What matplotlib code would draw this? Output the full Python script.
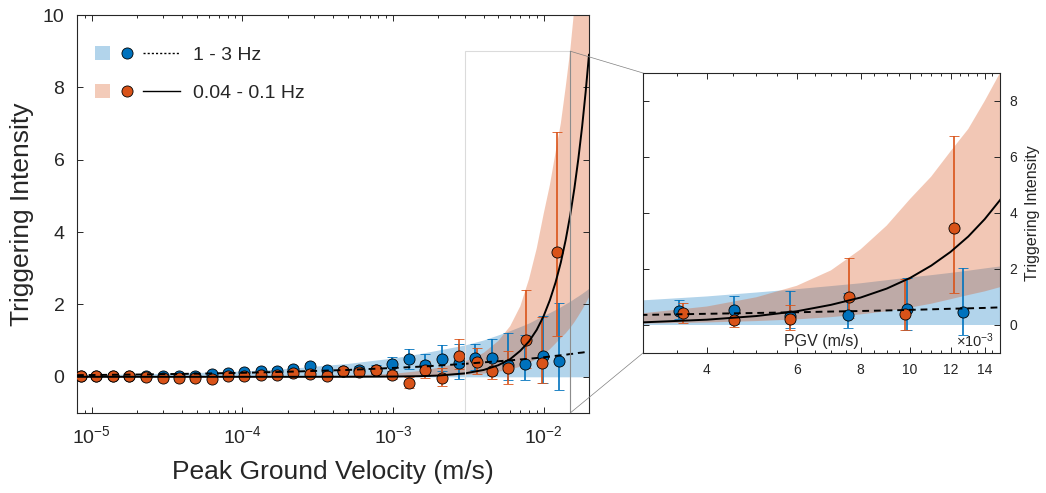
import numpy as np
import matplotlib
matplotlib.use("Agg")
import matplotlib.pyplot as plt
from matplotlib.patches import Rectangle, ConnectionPatch
from matplotlib.lines import Line2D
from matplotlib.ticker import (MultipleLocator, FuncFormatter, NullFormatter,
                               FixedLocator, LogLocator)

plt.rcParams["font.family"] = ["Liberation Sans", "DejaVu Sans"]
plt.rcParams["mathtext.fontset"] = "custom"
plt.rcParams["mathtext.rm"] = "Liberation Sans"
plt.rcParams["mathtext.it"] = "Liberation Sans:italic"
plt.rcParams["mathtext.default"] = "regular"

BLUE = "#0072BD"
ORANGE = "#D95319"
AXC = "#262626"

# binned triggering intensity, 1 - 3 Hz
pgv_hf = [8.45e-6, 1.075e-5, 1.38e-5, 1.77e-5, 2.28e-5, 2.97e-5, 3.80e-5, 4.86e-5,
          6.30e-5, 8.05e-5, 1.03e-4, 1.33e-4, 1.71e-4, 2.18e-4, 2.81e-4, 3.63e-4,
          4.68e-4, 5.97e-4, 7.71e-4, 9.9e-4, 1.28e-3, 1.64e-3, 2.12e-3, 2.73e-3,
          3.53e-3, 4.53e-3, 5.83e-3, 7.55e-3, 9.86e-3, 12.7e-3]
ti_hf = [0.02, 0.02, 0.02, 0.02, 0.02, 0.03, 0.03, 0.02, 0.08, 0.10, 0.13, 0.17,
         0.17, 0.22, 0.30, 0.19, 0.17, 0.19, 0.20, 0.36, 0.49, 0.33, 0.49, 0.38,
         0.51, 0.53, 0.32, 0.35, 0.57, 0.45]
lo_hf = [0.0, 0.0, 0.0, 0.0, 0.0, 0.01, 0.01, 0.0, 0.04, 0.06, 0.09, 0.13,
         0.10, 0.15, 0.23, 0.12, 0.10, 0.08, 0.08, 0.15, 0.21, 0.01, 0.15, -0.07,
         0.20, 0.05, -0.10, -0.10, -0.18, -0.36]
hi_hf = [0.04, 0.04, 0.04, 0.04, 0.04, 0.05, 0.05, 0.04, 0.12, 0.14, 0.17, 0.21,
         0.24, 0.29, 0.37, 0.26, 0.24, 0.30, 0.33, 0.54, 0.77, 0.64, 0.88, 0.91,
         0.91, 1.05, 1.20, 1.16, 1.67, 2.05]

# binned triggering intensity, 0.04 - 0.1 Hz
pgv_lf = [8.45e-6, 1.075e-5, 1.38e-5, 1.77e-5, 2.28e-5, 2.97e-5, 3.80e-5, 4.86e-5,
          6.30e-5, 8.05e-5, 1.03e-4, 1.33e-4, 1.71e-4, 2.18e-4, 2.81e-4, 3.63e-4,
          4.68e-4, 5.97e-4, 7.71e-4, 9.9e-4, 1.28e-3, 1.64e-3, 2.12e-3, 2.73e-3,
          3.60e-3, 4.52e-3, 5.81e-3, 7.58e-3, 9.76e-3, 12.2e-3]
ti_lf = [0.01, 0.01, 0.01, 0.01, -0.01, -0.02, -0.02, -0.03, -0.06, 0.01, 0.03, 0.05,
         0.05, 0.10, 0.08, 0.03, 0.17, 0.12, 0.19, 0.05, -0.16, 0.19, -0.03, 0.58,
         0.42, 0.17, 0.23, 1.01, 0.39, 3.45]
lo_lf = [-0.02, -0.02, -0.02, -0.02, -0.04, -0.05, -0.05, -0.06, -0.09, -0.02, 0.0, 0.02,
         0.02, 0.07, 0.05, 0.0, 0.08, 0.02, 0.08, -0.07, -0.31, -0.02, -0.25, 0.21,
         0.08, -0.06, -0.19, 0.25, -0.17, 1.13]
hi_lf = [0.04, 0.04, 0.04, 0.04, 0.02, 0.01, 0.01, 0.0, -0.03, 0.04, 0.06, 0.08,
         0.08, 0.13, 0.11, 0.06, 0.26, 0.22, 0.30, 0.17, 0.0, 0.44, 0.24, 1.04,
         0.79, 0.46, 0.72, 2.41, 1.64, 6.76]

# fitted curves and confidence bands
fit_x = [8e-6, 1e-5, 2e-5, 5e-5, 1e-4, 2e-4, 5e-4, 1e-3, 1.5e-3, 2e-3, 3e-3, 4e-3,
         5e-3, 6e-3, 7e-3, 8e-3, 9e-3, 1e-2, 1.1e-2, 1.2e-2, 1.3e-2, 1.4e-2, 1.5e-2,
         1.6e-2, 1.7e-2, 1.8e-2, 1.9e-2, 2e-2]
fit_hf = [0.046, 0.05, 0.063, 0.087, 0.11, 0.14, 0.19, 0.245, 0.28, 0.31, 0.36, 0.40,
          0.43, 0.455, 0.48, 0.50, 0.52, 0.54, 0.56, 0.58, 0.595, 0.61, 0.63,
          0.64, 0.66, 0.67, 0.685, 0.70]
band_hf_lo = [0.0] * 28
band_hf_hi = [0.05, 0.06, 0.08, 0.12, 0.16, 0.23, 0.37, 0.52, 0.64, 0.74, 0.88, 1.02,
              1.16, 1.28, 1.39, 1.49, 1.60, 1.70, 1.78, 1.86, 1.94, 2.02, 2.09,
              2.17, 2.24, 2.31, 2.38, 2.45]
fit_lf = [0.0, 0.0, 0.0, 0.0, 0.0, 0.0, 0.001, 0.007, 0.018, 0.035, 0.095, 0.19,
          0.32, 0.49, 0.72, 0.98, 1.30, 1.68, 2.12, 2.61, 3.16, 3.78, 4.46,
          5.21, 6.03, 6.91, 7.87, 8.90]
band_lf_lo = [0.0, 0.0, 0.0, 0.0, 0.0, 0.0, 0.001, 0.004, 0.01, 0.02, 0.05, 0.09,
              0.14, 0.20, 0.28, 0.38, 0.49, 0.62, 0.76, 0.92, 1.07, 1.20, 1.35,
              1.51, 1.68, 1.85, 2.02, 2.20]
band_lf_hi = [0.0, 0.0, 0.0, 0.002, 0.005, 0.012, 0.035, 0.08, 0.16, 0.25, 0.42, 0.66,
              0.99, 1.40, 1.95, 2.70, 3.55, 4.50, 5.30, 6.20, 7.00, 8.00, 9.00,
              10.2, 11.4, 12.6, 14.0, 15.5]

main_xlim = (8e-6, 2e-2)
main_ylim = (-1, 10)
zoom_xlim = (3e-3, 1.5e-2)
zoom_ylim = (-1, 9)


class Key:
    def __init__(self, color, ls):
        self.color = color
        self.ls = ls


class KeyHandler:
    def legend_artist(self, legend, orig, fontsize, handlebox):
        x0, y0 = handlebox.xdescent, handlebox.ydescent
        w, h = handlebox.width, handlebox.height
        yc = y0 + h / 2
        s = 10.5
        sq = Rectangle((x0, yc - s / 2), s, s, facecolor=orig.color, alpha=0.3,
                       edgecolor="none")
        mk = Line2D([x0 + 23], [yc], marker="o", ms=8, mfc=orig.color,
                    mec="k", mew=0.6, ls="none")
        ln = Line2D([x0 + 34.5, x0 + w], [yc, yc], color="k", lw=1.0,
                    linestyle=orig.ls)
        for a in (sq, mk, ln):
            handlebox.add_artist(a)
        return sq


def draw(ax):
    ax.fill_between(fit_x, band_hf_lo, band_hf_hi, color=BLUE, alpha=0.3, lw=0, zorder=1)
    ax.fill_between(fit_x, band_lf_lo, band_lf_hi, color=ORANGE, alpha=0.32, lw=0, zorder=1)
    for x, y, lo, hi, c in [(pgv_hf, ti_hf, lo_hf, hi_hf, BLUE),
                            (pgv_lf, ti_lf, lo_lf, hi_lf, ORANGE)]:
        y = np.array(y)
        yerr = [y - np.array(lo), np.array(hi) - y]
        ax.errorbar(x, y, yerr=yerr, fmt="o", color=c, mfc=c, mec="k", mew=0.6,
                    ms=8, capsize=3.5, elinewidth=1.2, capthick=1.2, zorder=3)
    ax.plot(fit_x, fit_hf, color="k", lw=1.4, ls=(0, (3.5, 2.5)), zorder=4)
    ax.plot(fit_x, fit_lf, color="k", lw=1.4, zorder=4)


def style(ax):
    for sp in ax.spines.values():
        sp.set_color(AXC)
        sp.set_linewidth(0.8)
    ax.tick_params(which="both", direction="in", top=True, right=True,
                   color=AXC, labelcolor=AXC, width=0.7)
    ax.tick_params(which="major", length=4.5)
    ax.tick_params(which="minor", length=2.5)


fig = plt.figure(figsize=(10.46, 4.93), dpi=100)
ax = fig.add_axes([77 / 1046, 1 - 413 / 493, 512 / 1046, 398 / 493])
draw(ax)
ax.set_xscale("log")
ax.set_xlim(main_xlim)
ax.set_ylim(main_ylim)
ax.set_yticks([0, 2, 4, 6, 8, 10])
ax.xaxis.set_minor_locator(LogLocator(base=10, subs=range(2, 10), numticks=20))
ax.xaxis.set_minor_formatter(NullFormatter())
style(ax)
ax.tick_params(which="major", labelsize=14, pad=9)
ax.set_xlabel("Peak Ground Velocity (m/s)", fontsize=19, color=AXC, labelpad=9)
ax.set_ylabel("Triggering Intensity", fontsize=19, color=AXC, labelpad=6)

leg = ax.legend([Key(BLUE, (0, (1.5, 1.5))), Key(ORANGE, "-")],
                ["1 - 3 Hz", "0.04 - 0.1 Hz"],
                handler_map={Key: KeyHandler()}, loc="upper left",
                bbox_to_anchor=(0.035, 0.922), frameon=False, fontsize=14,
                handlelength=4.37, handletextpad=0.67, labelspacing=1.06,
                borderpad=0, borderaxespad=0)
for t in leg.get_texts():
    t.set_color(AXC)

# zoom box on the main axes
ax.add_patch(Rectangle((zoom_xlim[0], zoom_ylim[0]), zoom_xlim[1] - zoom_xlim[0],
                       zoom_ylim[1] - zoom_ylim[0], fill=False, ec="0.86", lw=0.8,
                       zorder=5))
ax.plot([zoom_xlim[1], zoom_xlim[1]], zoom_ylim, color="0.55", lw=0.8, zorder=5)

axin = fig.add_axes([643 / 1046, 1 - 353 / 493, 357 / 1046, 280 / 493])
draw(axin)
axin.set_xscale("log")
axin.set_xlim(zoom_xlim)
axin.set_ylim(zoom_ylim)
axin.xaxis.set_major_locator(FixedLocator([4e-3, 6e-3, 8e-3, 10e-3, 12e-3, 14e-3]))
axin.xaxis.set_major_formatter(FuncFormatter(lambda v, p: "%d" % round(v * 1e3)))
axin.xaxis.set_minor_locator(MultipleLocator(0.5e-3))
axin.xaxis.set_minor_formatter(NullFormatter())
axin.set_yticks([0, 2, 4, 6, 8])
style(axin)
axin.yaxis.tick_right()
axin.yaxis.set_label_position("right")
axin.tick_params(which="both", left=True, right=True, labelleft=False, labelright=True)
axin.tick_params(which="major", labelsize=10, pad=7)
axin.set_ylabel("Triggering Intensity", fontsize=11.5, color=AXC, labelpad=5)
axin.text(0.5, 0.042, "PGV (m/s)", transform=axin.transAxes, ha="center",
          va="center", fontsize=11.5, color=AXC)
axin.text(0.985, 0.012, r"$\times10^{-3}$", transform=axin.transAxes, ha="right",
          va="bottom", fontsize=10.5, color=AXC)

for ya, yb in [(zoom_ylim[1], 1), (zoom_ylim[0], 0)]:
    con = ConnectionPatch(xyA=(zoom_xlim[1], ya), coordsA=ax.transData,
                          xyB=(0, yb), coordsB=axin.transAxes, color="0.5", lw=0.5)
    fig.add_artist(con)

fig.savefig("out.png", dpi=100)
